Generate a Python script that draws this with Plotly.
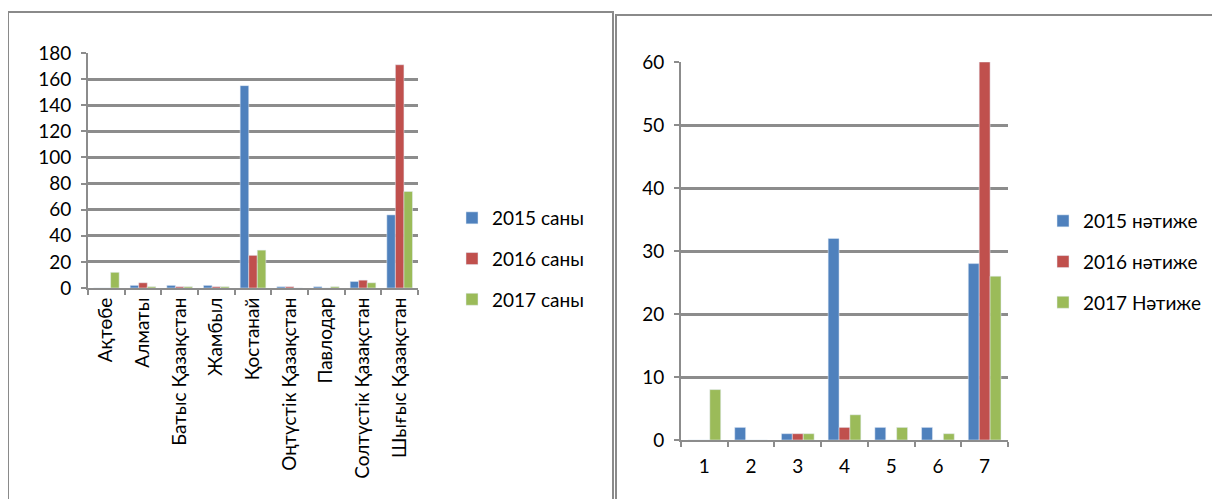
import plotly.graph_objects as go

# ---------------------------------------------------------------------------
# Data
# ---------------------------------------------------------------------------

regions = [
    "Ақтөбе", "Алматы", "Батыс Қазақстан", "Жамбыл", "Қостанай",
    "Оңтүстік Қазақстан", "Павлодар", "Солтүстік Қазақстан", "Шығыс Қазақстан",
]
count_2015 = [0, 2, 2, 2, 155, 1, 1, 5, 56]
count_2016 = [0, 4, 1, 1, 25, 1, 0, 6, 171]
count_2017 = [12, 1, 1, 1, 29, 0, 1, 4, 74]

items = ["1", "2", "3", "4", "5", "6", "7"]
result_2015 = [0, 2, 1, 32, 2, 2, 28]
result_2016 = [0, 0, 1, 2, 0, 0, 60]
result_2017 = [8, 0, 1, 4, 2, 1, 26]

left_names = ["2015 саны", "2016 саны", "2017 саны"]
right_names = ["2015 нәтиже", "2016 нәтиже", "2017 Нәтиже"]

COLORS = ["#4F81BD", "#C0504D", "#9BBB59"]
GRID = "#8c8c8c"
FONT = "Lato"

# page body keeps its default 8px margin, so the figure is shifted by that
OFF = 8
W, H = 1220 - OFF, 499 - OFF


def px_x(x):
    # screen column -> paper fraction
    return (x - OFF) / W


def px_y(y):
    # screen row (from top) -> paper fraction (from bottom)
    return (H - (y - OFF)) / H


fig = go.Figure()

for i, vals in enumerate([count_2015, count_2016, count_2017]):
    fig.add_trace(go.Bar(
        x=regions, y=vals, name=left_names[i],
        marker_color=COLORS[i], xaxis="x", yaxis="y",
        legend="legend", legendgroup=f"l{i}",
    ))

for i, vals in enumerate([result_2015, result_2016, result_2017]):
    fig.add_trace(go.Bar(
        x=items, y=vals, name=right_names[i],
        marker_color=COLORS[i], xaxis="x2", yaxis="y2",
        legend="legend2", legendgroup=f"r{i}",
    ))

axis_common = dict(
    automargin=False,
    showline=True, linecolor=GRID, linewidth=2,
    ticks="outside", tickcolor=GRID, ticklen=5, tickwidth=2,
    tickfont=dict(family=FONT, size=19, color="#000"),
)
legend_common = dict(
    xanchor="left", yanchor="top", tracegroupgap=13, itemwidth=30,
    font=dict(family=FONT, size=19, color="#000"), bgcolor="rgba(0,0,0,0)",
)

fig.update_layout(
    width=W, height=H,
    margin=dict(l=0, r=0, t=0, b=0),
    paper_bgcolor="white", plot_bgcolor="white",
    font=dict(family=FONT, size=19, color="#000"),
    barmode="group", bargap=0.3, bargroupgap=0,
    xaxis=dict(domain=[px_x(88), px_x(418)], type="category",
               tickson="boundaries", tickangle=-90, anchor="y",
               showgrid=False, **axis_common),
    yaxis=dict(domain=[px_y(288), px_y(53)], range=[0, 180], dtick=20,
               anchor="x", showgrid=True, gridcolor=GRID, gridwidth=2.5,
               zeroline=False, ticklabelstandoff=6, **axis_common),
    xaxis2=dict(domain=[px_x(681), px_x(1008)], type="category",
                tickson="boundaries", anchor="y2", showgrid=False,
                ticklabelstandoff=8, **axis_common),
    yaxis2=dict(domain=[px_y(440), px_y(62)], range=[0, 60], dtick=10,
                anchor="x2", showgrid=True, gridcolor=GRID, gridwidth=2.5,
                zeroline=False, ticklabelstandoff=6, **axis_common),
    legend=dict(x=px_x(452), y=px_y(199), **legend_common),
    legend2=dict(x=px_x(1043), y=px_y(202), **legend_common),
    showlegend=True,
)

# panel frames
fig.add_shape(type="rect", xref="paper", yref="paper",
              x0=px_x(8), x1=px_x(613), y0=-0.05, y1=px_y(12),
              line=dict(color="#8a8a8a", width=2))
fig.add_shape(type="rect", xref="paper", yref="paper",
              x0=px_x(616), x1=1.05, y0=-0.05, y1=px_y(15),
              line=dict(color="#8a8a8a", width=2))

fig.write_html("out.html")
